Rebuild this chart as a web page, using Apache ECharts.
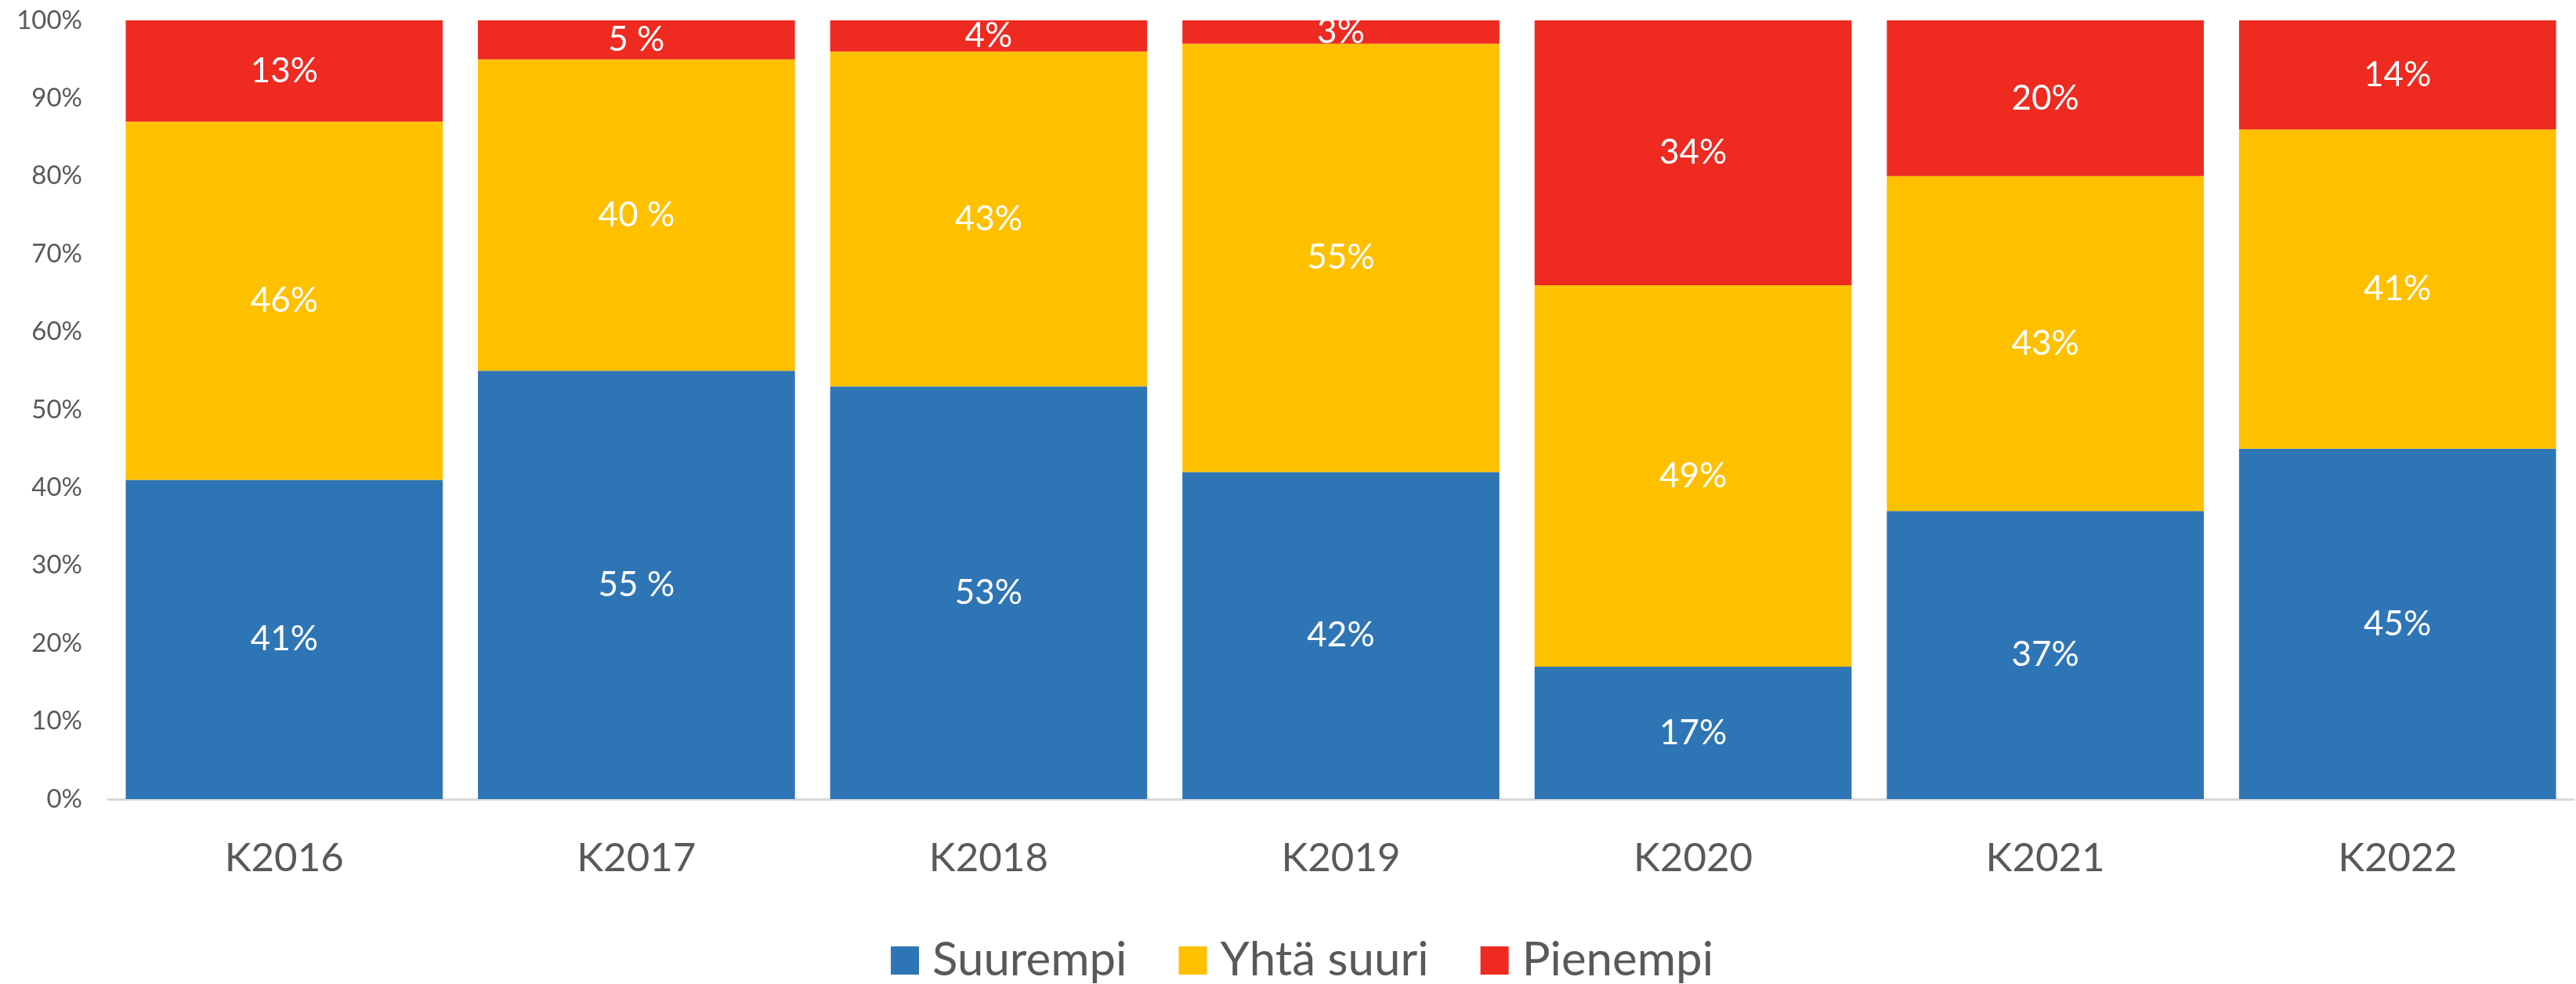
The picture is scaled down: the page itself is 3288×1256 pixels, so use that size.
<!DOCTYPE html>
<html>
<head>
<meta charset="utf-8">
<script src="https://cdn.jsdelivr.net/npm/echarts@6/dist/echarts.min.js"></script>
<style>
  html, body { margin: 0; padding: 0; background: #fff; }
  #chart { width: 3288px; height: 1256px; }
</style>
</head>
<body>
<div id="chart"></div>
<script>
var categories = ['K2016', 'K2017', 'K2018', 'K2019', 'K2020', 'K2021', 'K2022'];
var suurempi = [41, 55, 53, 42, 17, 37, 45];
var yhtaSuuri = [46, 40, 43, 55, 49, 43, 41];
var pienempi = [13, 5, 4, 3, 34, 20, 14];
// label texts as printed in the source (K2017 has a space before %)
var suurempiLabels = ['41%', '55 %', '53%', '42%', '17%', '37%', '45%'];
var yhtaSuuriLabels = ['46%', '40 %', '43%', '55%', '49%', '43%', '41%'];
var pienempiLabels = ['13%', '5 %', '4%', '3%', '34%', '20%', '14%'];
var yTicks = ['0%', '10%', '20%', '30%', '40%', '50%', '60%', '70%', '80%', '90%', '100%'];

var font = 'Lato, "Open Sans", sans-serif';

function makeSeries(name, values, labels, color) {
    return {
        name: name,
        type: 'bar',
        stack: 'total',
        barCategoryGap: '10%',
        data: values,
        itemStyle: { color: color },
        label: {
            show: true,
            position: 'inside',
            color: '#fff',
            fontFamily: font,
            fontSize: 44,
            formatter: function (p) { return labels[p.dataIndex]; }
        }
    };
}

var chart = echarts.init(document.getElementById('chart'));
chart.setOption({
    animation: false,
    grid: { left: 138, right: 3, top: 26, bottom: 236 },
    legend: {
        left: 1132,
        top: 1191,
        itemWidth: 36,
        itemHeight: 36,
        itemGap: 66,
        icon: 'rect',
        textStyle: { fontFamily: font, fontSize: 60, color: '#595959', padding: [0, 0, 0, 12] },
        data: ['Suurempi', 'Yhtä suuri', 'Pienempi']
    },
    xAxis: {
        type: 'category',
        data: categories,
        axisLine: { lineStyle: { color: '#D9D9D9', width: 3 } },
        axisTick: { show: false },
        axisLabel: { fontFamily: font, fontSize: 51, color: '#595959', margin: 50 }
    },
    yAxis: {
        type: 'value',
        min: 0,
        max: 100,
        interval: 10,
        splitLine: { show: false },
        axisLine: { show: false },
        axisTick: { show: false },
        axisLabel: {
            fontFamily: font,
            fontSize: 33,
            color: '#595959',
            margin: 33,
            formatter: function (v) { return yTicks[Math.round(v / 10)]; }
        }
    },
    series: [
        makeSeries('Suurempi', suurempi, suurempiLabels, '#2E75B6'),
        makeSeries('Yhtä suuri', yhtaSuuri, yhtaSuuriLabels, '#FFC000'),
        makeSeries('Pienempi', pienempi, pienempiLabels, '#EE2A21')
    ]
});
</script>
</body>
</html>
